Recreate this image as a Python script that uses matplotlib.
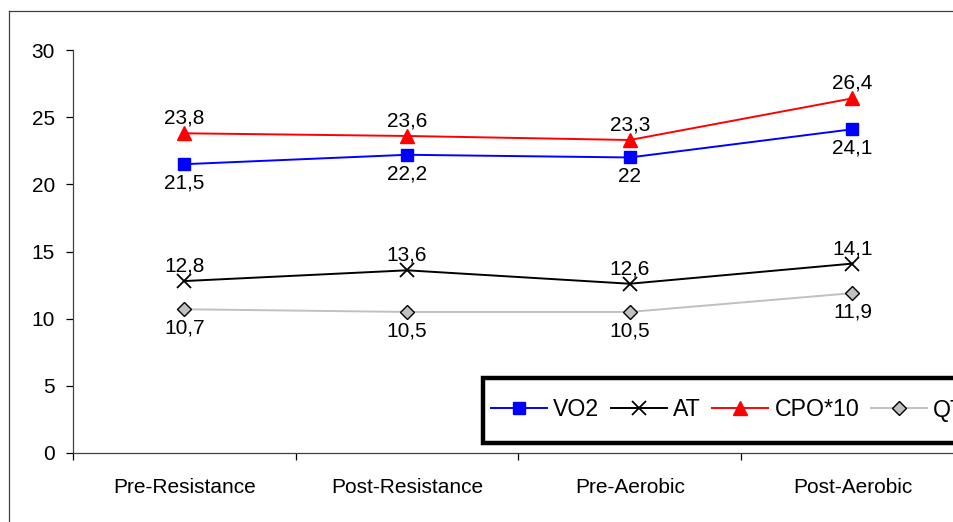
import matplotlib.pyplot as plt
from matplotlib.patches import Rectangle
from matplotlib.lines import Line2D

plt.rcParams['font.family'] = ['Liberation Sans', 'DejaVu Sans']

# data
categories = ["Pre-Resistance", "Post-Resistance", "Pre-Aerobic", "Post-Aerobic"]
vo2 = [21.5, 22.2, 22.0, 24.1]
at = [12.8, 13.6, 12.6, 14.1]
cpo10 = [23.8, 23.6, 23.3, 26.4]
qt = [10.7, 10.5, 10.5, 11.9]

W, H = 954, 522
fig = plt.figure(figsize=(W / 100, H / 100), dpi=100)
fs = 15

# outer chart frame (only top and left edges visible, like the source)
fig.lines.append(Line2D([9 / W, 9 / W], [0, 1 - 11 / H], transform=fig.transFigure,
                        color="#404040", linewidth=0.9))
fig.lines.append(Line2D([9 / W, 1.0], [1 - 11 / H, 1 - 11 / H], transform=fig.transFigure,
                        color="#404040", linewidth=0.9))

ax = fig.add_axes([73 / W, 1 - 453 / H, 890.8 / W, 403 / H])
x = list(range(len(categories)))

series = [
    ("VO2", vo2, dict(color="#0000FF", marker="s", markersize=8,
                      markerfacecolor="#0000FF", markeredgecolor="#0000FF"), -1),
    ("AT", at, dict(color="black", marker="x", markersize=10,
                    markeredgewidth=1.3), 1),
    ("CPO*10", cpo10, dict(color="#FF0000", marker="^", markersize=10,
                           markerfacecolor="#FF0000", markeredgecolor="#FF0000"), 1),
    ("QT", qt, dict(color="#C0C0C0", marker="D", markersize=7,
                    markerfacecolor="#C0C0C0", markeredgecolor="black",
                    markeredgewidth=1.0), -1),
]

handles = []
for name, vals, style, side in series:
    h, = ax.plot(x, vals, linewidth=1.4, label=name, clip_on=False, **style)
    handles.append(h)
    for xi, v in zip(x, vals):
        lab = ("%g" % v).replace(".", ",")
        if side > 0:
            ax.annotate(lab, (xi, v), xytext=(0, 4), textcoords="offset points",
                        ha="center", va="bottom", fontsize=fs)
        else:
            ax.annotate(lab, (xi, v), xytext=(0, -7), textcoords="offset points",
                        ha="center", va="top", fontsize=fs)

ax.set_xlim(-0.5, len(categories) - 0.5)
ax.set_ylim(0, 30)
ax.set_yticks([0, 5, 10, 15, 20, 25, 30])
ax.tick_params(axis="y", labelsize=fs, length=5, width=0.9, pad=8, colors="black")
ax.set_xticks(x)
ax.set_xticklabels(categories)
ax.set_xticks([i - 0.5 for i in range(len(categories) + 1)], minor=True)
ax.tick_params(axis="x", which="major", length=0, pad=18, labelsize=fs)
ax.tick_params(axis="x", which="minor", length=5, width=0.9, direction="out")
for s in ["top", "right"]:
    ax.spines[s].set_visible(False)
for s in ["left", "bottom"]:
    ax.spines[s].set_linewidth(0.9)
    ax.spines[s].set_color("#404040")

# legend box (runs past the right edge, as in the source)
fig.patches.append(Rectangle((483 / W, 1 - 443 / H), 0.6, 65 / H,
                             transform=fig.transFigure, facecolor="white",
                             edgecolor="black", linewidth=3.2, zorder=5))
leg = fig.legend(handles=handles, loc="center left",
                 bbox_to_anchor=(491 / W, 1 - 410 / H), ncol=4, frameon=False,
                 fontsize=16.7, handlelength=2.4, handletextpad=0.28,
                 columnspacing=0.5, borderpad=0, borderaxespad=0)
leg.set_zorder(6)

fig.savefig("out.png", dpi=100)
